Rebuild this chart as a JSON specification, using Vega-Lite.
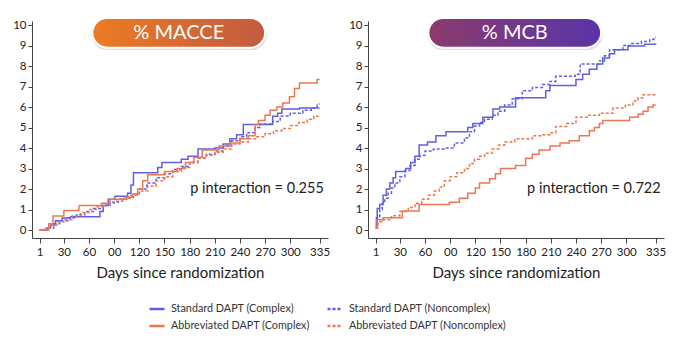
{
  "$schema": "https://vega.github.io/schema/vega-lite/v6.json",
  "background": "white",
  "padding": {"left": 12, "top": 16, "right": 5, "bottom": 5},
  "config": {
    "font": "Lato",
    "view": {"stroke": null},
    "axis": {"grid": false, "domainColor": "#444", "tickColor": "#444", "labelColor": "#222", "labelFontSize": 11.5, "titleColor": "#222", "titleFontWeight": "normal", "labelOverlap": false},
    "legend": {"orient": "none", "legendX": 116, "legendY": 279, "columns": 2, "title": null, "symbolType": "stroke", "symbolSize": 225, "symbolStrokeWidth": 2.5, "labelFontSize": 10.8, "labelColor": "#333", "labelLimit": 400, "columnPadding": 12, "rowPadding": 3, "labelOffset": 5}
  },
  "datasets": {
    "km": [
      {"panel":"MACCE","group":"Standard DAPT (Complex)","day":1,"pct":0},
      {"panel":"MACCE","group":"Standard DAPT (Complex)","day":10,"pct":0.1},
      {"panel":"MACCE","group":"Standard DAPT (Complex)","day":14,"pct":0.25},
      {"panel":"MACCE","group":"Standard DAPT (Complex)","day":20,"pct":0.45},
      {"panel":"MACCE","group":"Standard DAPT (Complex)","day":28,"pct":0.58},
      {"panel":"MACCE","group":"Standard DAPT (Complex)","day":38,"pct":0.65},
      {"panel":"MACCE","group":"Standard DAPT (Complex)","day":73,"pct":0.9},
      {"panel":"MACCE","group":"Standard DAPT (Complex)","day":77,"pct":1.2},
      {"panel":"MACCE","group":"Standard DAPT (Complex)","day":83,"pct":1.5},
      {"panel":"MACCE","group":"Standard DAPT (Complex)","day":91,"pct":1.65},
      {"panel":"MACCE","group":"Standard DAPT (Complex)","day":106,"pct":1.8},
      {"panel":"MACCE","group":"Standard DAPT (Complex)","day":110,"pct":2.2},
      {"panel":"MACCE","group":"Standard DAPT (Complex)","day":113,"pct":2.8},
      {"panel":"MACCE","group":"Standard DAPT (Complex)","day":142,"pct":3.05},
      {"panel":"MACCE","group":"Standard DAPT (Complex)","day":147,"pct":3.3},
      {"panel":"MACCE","group":"Standard DAPT (Complex)","day":170,"pct":3.45},
      {"panel":"MACCE","group":"Standard DAPT (Complex)","day":178,"pct":3.6},
      {"panel":"MACCE","group":"Standard DAPT (Complex)","day":190,"pct":3.95},
      {"panel":"MACCE","group":"Standard DAPT (Complex)","day":210,"pct":4.0},
      {"panel":"MACCE","group":"Standard DAPT (Complex)","day":220,"pct":4.2},
      {"panel":"MACCE","group":"Standard DAPT (Complex)","day":228,"pct":4.45},
      {"panel":"MACCE","group":"Standard DAPT (Complex)","day":236,"pct":4.65},
      {"panel":"MACCE","group":"Standard DAPT (Complex)","day":244,"pct":5.15},
      {"panel":"MACCE","group":"Standard DAPT (Complex)","day":279,"pct":5.55},
      {"panel":"MACCE","group":"Standard DAPT (Complex)","day":285,"pct":5.7},
      {"panel":"MACCE","group":"Standard DAPT (Complex)","day":290,"pct":5.9},
      {"panel":"MACCE","group":"Standard DAPT (Complex)","day":311,"pct":5.95},
      {"panel":"MACCE","group":"Standard DAPT (Complex)","day":335,"pct":5.95},

      {"panel":"MACCE","group":"Standard DAPT (Noncomplex)","day":1,"pct":0},
      {"panel":"MACCE","group":"Standard DAPT (Noncomplex)","day":12,"pct":0.1},
      {"panel":"MACCE","group":"Standard DAPT (Noncomplex)","day":18,"pct":0.3},
      {"panel":"MACCE","group":"Standard DAPT (Noncomplex)","day":25,"pct":0.45},
      {"panel":"MACCE","group":"Standard DAPT (Noncomplex)","day":35,"pct":0.6},
      {"panel":"MACCE","group":"Standard DAPT (Noncomplex)","day":45,"pct":0.75},
      {"panel":"MACCE","group":"Standard DAPT (Noncomplex)","day":55,"pct":0.9},
      {"panel":"MACCE","group":"Standard DAPT (Noncomplex)","day":65,"pct":1.05},
      {"panel":"MACCE","group":"Standard DAPT (Noncomplex)","day":75,"pct":1.2},
      {"panel":"MACCE","group":"Standard DAPT (Noncomplex)","day":85,"pct":1.35},
      {"panel":"MACCE","group":"Standard DAPT (Noncomplex)","day":95,"pct":1.5},
      {"panel":"MACCE","group":"Standard DAPT (Noncomplex)","day":105,"pct":1.6},
      {"panel":"MACCE","group":"Standard DAPT (Noncomplex)","day":113,"pct":1.75},
      {"panel":"MACCE","group":"Standard DAPT (Noncomplex)","day":120,"pct":2.0},
      {"panel":"MACCE","group":"Standard DAPT (Noncomplex)","day":129,"pct":2.3},
      {"panel":"MACCE","group":"Standard DAPT (Noncomplex)","day":140,"pct":2.55},
      {"panel":"MACCE","group":"Standard DAPT (Noncomplex)","day":150,"pct":2.75},
      {"panel":"MACCE","group":"Standard DAPT (Noncomplex)","day":160,"pct":2.95},
      {"panel":"MACCE","group":"Standard DAPT (Noncomplex)","day":170,"pct":3.1},
      {"panel":"MACCE","group":"Standard DAPT (Noncomplex)","day":180,"pct":3.3},
      {"panel":"MACCE","group":"Standard DAPT (Noncomplex)","day":190,"pct":3.5},
      {"panel":"MACCE","group":"Standard DAPT (Noncomplex)","day":200,"pct":3.7},
      {"panel":"MACCE","group":"Standard DAPT (Noncomplex)","day":210,"pct":3.85},
      {"panel":"MACCE","group":"Standard DAPT (Noncomplex)","day":220,"pct":4.1},
      {"panel":"MACCE","group":"Standard DAPT (Noncomplex)","day":230,"pct":4.35},
      {"panel":"MACCE","group":"Standard DAPT (Noncomplex)","day":240,"pct":4.55},
      {"panel":"MACCE","group":"Standard DAPT (Noncomplex)","day":248,"pct":4.75},
      {"panel":"MACCE","group":"Standard DAPT (Noncomplex)","day":258,"pct":5.0},
      {"panel":"MACCE","group":"Standard DAPT (Noncomplex)","day":264,"pct":5.17},
      {"panel":"MACCE","group":"Standard DAPT (Noncomplex)","day":279,"pct":5.3},
      {"panel":"MACCE","group":"Standard DAPT (Noncomplex)","day":288,"pct":5.56},
      {"panel":"MACCE","group":"Standard DAPT (Noncomplex)","day":300,"pct":5.7},
      {"panel":"MACCE","group":"Standard DAPT (Noncomplex)","day":315,"pct":5.85},
      {"panel":"MACCE","group":"Standard DAPT (Noncomplex)","day":325,"pct":5.95},
      {"panel":"MACCE","group":"Standard DAPT (Noncomplex)","day":332,"pct":6.15},
      {"panel":"MACCE","group":"Standard DAPT (Noncomplex)","day":335,"pct":6.15},

      {"panel":"MACCE","group":"Abbreviated DAPT (Complex)","day":1,"pct":0},
      {"panel":"MACCE","group":"Abbreviated DAPT (Complex)","day":12,"pct":0.3},
      {"panel":"MACCE","group":"Abbreviated DAPT (Complex)","day":17,"pct":0.68},
      {"panel":"MACCE","group":"Abbreviated DAPT (Complex)","day":30,"pct":0.95},
      {"panel":"MACCE","group":"Abbreviated DAPT (Complex)","day":48,"pct":1.2},
      {"panel":"MACCE","group":"Abbreviated DAPT (Complex)","day":75,"pct":1.3},
      {"panel":"MACCE","group":"Abbreviated DAPT (Complex)","day":85,"pct":1.5},
      {"panel":"MACCE","group":"Abbreviated DAPT (Complex)","day":105,"pct":1.6},
      {"panel":"MACCE","group":"Abbreviated DAPT (Complex)","day":112,"pct":1.75},
      {"panel":"MACCE","group":"Abbreviated DAPT (Complex)","day":118,"pct":2.0},
      {"panel":"MACCE","group":"Abbreviated DAPT (Complex)","day":124,"pct":2.4},
      {"panel":"MACCE","group":"Abbreviated DAPT (Complex)","day":130,"pct":2.7},
      {"panel":"MACCE","group":"Abbreviated DAPT (Complex)","day":150,"pct":2.85},
      {"panel":"MACCE","group":"Abbreviated DAPT (Complex)","day":165,"pct":3.0},
      {"panel":"MACCE","group":"Abbreviated DAPT (Complex)","day":175,"pct":3.3},
      {"panel":"MACCE","group":"Abbreviated DAPT (Complex)","day":185,"pct":3.55},
      {"panel":"MACCE","group":"Abbreviated DAPT (Complex)","day":195,"pct":3.9},
      {"panel":"MACCE","group":"Abbreviated DAPT (Complex)","day":215,"pct":4.1},
      {"panel":"MACCE","group":"Abbreviated DAPT (Complex)","day":228,"pct":4.25},
      {"panel":"MACCE","group":"Abbreviated DAPT (Complex)","day":240,"pct":4.45},
      {"panel":"MACCE","group":"Abbreviated DAPT (Complex)","day":250,"pct":4.6},
      {"panel":"MACCE","group":"Abbreviated DAPT (Complex)","day":258,"pct":5.15},
      {"panel":"MACCE","group":"Abbreviated DAPT (Complex)","day":262,"pct":5.35},
      {"panel":"MACCE","group":"Abbreviated DAPT (Complex)","day":270,"pct":5.6},
      {"panel":"MACCE","group":"Abbreviated DAPT (Complex)","day":276,"pct":5.85},
      {"panel":"MACCE","group":"Abbreviated DAPT (Complex)","day":284,"pct":6.0},
      {"panel":"MACCE","group":"Abbreviated DAPT (Complex)","day":291,"pct":6.2},
      {"panel":"MACCE","group":"Abbreviated DAPT (Complex)","day":299,"pct":6.5},
      {"panel":"MACCE","group":"Abbreviated DAPT (Complex)","day":305,"pct":6.9},
      {"panel":"MACCE","group":"Abbreviated DAPT (Complex)","day":311,"pct":7.17},
      {"panel":"MACCE","group":"Abbreviated DAPT (Complex)","day":332,"pct":7.35},
      {"panel":"MACCE","group":"Abbreviated DAPT (Complex)","day":335,"pct":7.35},

      {"panel":"MACCE","group":"Abbreviated DAPT (Noncomplex)","day":1,"pct":0},
      {"panel":"MACCE","group":"Abbreviated DAPT (Noncomplex)","day":8,"pct":0.1},
      {"panel":"MACCE","group":"Abbreviated DAPT (Noncomplex)","day":15,"pct":0.25},
      {"panel":"MACCE","group":"Abbreviated DAPT (Noncomplex)","day":22,"pct":0.4},
      {"panel":"MACCE","group":"Abbreviated DAPT (Noncomplex)","day":30,"pct":0.5},
      {"panel":"MACCE","group":"Abbreviated DAPT (Noncomplex)","day":40,"pct":0.7},
      {"panel":"MACCE","group":"Abbreviated DAPT (Noncomplex)","day":50,"pct":0.85},
      {"panel":"MACCE","group":"Abbreviated DAPT (Noncomplex)","day":60,"pct":1.0},
      {"panel":"MACCE","group":"Abbreviated DAPT (Noncomplex)","day":70,"pct":1.15},
      {"panel":"MACCE","group":"Abbreviated DAPT (Noncomplex)","day":80,"pct":1.3},
      {"panel":"MACCE","group":"Abbreviated DAPT (Noncomplex)","day":90,"pct":1.4},
      {"panel":"MACCE","group":"Abbreviated DAPT (Noncomplex)","day":100,"pct":1.55},
      {"panel":"MACCE","group":"Abbreviated DAPT (Noncomplex)","day":110,"pct":1.7},
      {"panel":"MACCE","group":"Abbreviated DAPT (Noncomplex)","day":120,"pct":1.9},
      {"panel":"MACCE","group":"Abbreviated DAPT (Noncomplex)","day":130,"pct":2.15},
      {"panel":"MACCE","group":"Abbreviated DAPT (Noncomplex)","day":140,"pct":2.4},
      {"panel":"MACCE","group":"Abbreviated DAPT (Noncomplex)","day":150,"pct":2.6},
      {"panel":"MACCE","group":"Abbreviated DAPT (Noncomplex)","day":160,"pct":2.85},
      {"panel":"MACCE","group":"Abbreviated DAPT (Noncomplex)","day":170,"pct":3.05},
      {"panel":"MACCE","group":"Abbreviated DAPT (Noncomplex)","day":180,"pct":3.3},
      {"panel":"MACCE","group":"Abbreviated DAPT (Noncomplex)","day":190,"pct":3.5},
      {"panel":"MACCE","group":"Abbreviated DAPT (Noncomplex)","day":200,"pct":3.65},
      {"panel":"MACCE","group":"Abbreviated DAPT (Noncomplex)","day":210,"pct":3.8},
      {"panel":"MACCE","group":"Abbreviated DAPT (Noncomplex)","day":220,"pct":3.95},
      {"panel":"MACCE","group":"Abbreviated DAPT (Noncomplex)","day":230,"pct":4.2},
      {"panel":"MACCE","group":"Abbreviated DAPT (Noncomplex)","day":240,"pct":4.3},
      {"panel":"MACCE","group":"Abbreviated DAPT (Noncomplex)","day":250,"pct":4.45},
      {"panel":"MACCE","group":"Abbreviated DAPT (Noncomplex)","day":260,"pct":4.55},
      {"panel":"MACCE","group":"Abbreviated DAPT (Noncomplex)","day":270,"pct":4.7},
      {"panel":"MACCE","group":"Abbreviated DAPT (Noncomplex)","day":280,"pct":4.85},
      {"panel":"MACCE","group":"Abbreviated DAPT (Noncomplex)","day":290,"pct":4.95},
      {"panel":"MACCE","group":"Abbreviated DAPT (Noncomplex)","day":300,"pct":5.1},
      {"panel":"MACCE","group":"Abbreviated DAPT (Noncomplex)","day":310,"pct":5.25},
      {"panel":"MACCE","group":"Abbreviated DAPT (Noncomplex)","day":320,"pct":5.4},
      {"panel":"MACCE","group":"Abbreviated DAPT (Noncomplex)","day":328,"pct":5.55},
      {"panel":"MACCE","group":"Abbreviated DAPT (Noncomplex)","day":335,"pct":5.6},

      {"panel":"MCB","group":"Standard DAPT (Complex)","day":1,"pct":0.2},
      {"panel":"MCB","group":"Standard DAPT (Complex)","day":2,"pct":0.6},
      {"panel":"MCB","group":"Standard DAPT (Complex)","day":3,"pct":1.05},
      {"panel":"MCB","group":"Standard DAPT (Complex)","day":6,"pct":1.25},
      {"panel":"MCB","group":"Standard DAPT (Complex)","day":10,"pct":1.7},
      {"panel":"MCB","group":"Standard DAPT (Complex)","day":14,"pct":2.0},
      {"panel":"MCB","group":"Standard DAPT (Complex)","day":18,"pct":2.3},
      {"panel":"MCB","group":"Standard DAPT (Complex)","day":22,"pct":2.55},
      {"panel":"MCB","group":"Standard DAPT (Complex)","day":25,"pct":2.85},
      {"panel":"MCB","group":"Standard DAPT (Complex)","day":37,"pct":3.0},
      {"panel":"MCB","group":"Standard DAPT (Complex)","day":43,"pct":3.3},
      {"panel":"MCB","group":"Standard DAPT (Complex)","day":48,"pct":3.6},
      {"panel":"MCB","group":"Standard DAPT (Complex)","day":53,"pct":4.15},
      {"panel":"MCB","group":"Standard DAPT (Complex)","day":63,"pct":4.3},
      {"panel":"MCB","group":"Standard DAPT (Complex)","day":73,"pct":4.6},
      {"panel":"MCB","group":"Standard DAPT (Complex)","day":85,"pct":4.8},
      {"panel":"MCB","group":"Standard DAPT (Complex)","day":111,"pct":5.0},
      {"panel":"MCB","group":"Standard DAPT (Complex)","day":117,"pct":5.2},
      {"panel":"MCB","group":"Standard DAPT (Complex)","day":129,"pct":5.5},
      {"panel":"MCB","group":"Standard DAPT (Complex)","day":141,"pct":5.9},
      {"panel":"MCB","group":"Standard DAPT (Complex)","day":149,"pct":6.0},
      {"panel":"MCB","group":"Standard DAPT (Complex)","day":168,"pct":6.45},
      {"panel":"MCB","group":"Standard DAPT (Complex)","day":204,"pct":6.8},
      {"panel":"MCB","group":"Standard DAPT (Complex)","day":209,"pct":7.05},
      {"panel":"MCB","group":"Standard DAPT (Complex)","day":240,"pct":7.35},
      {"panel":"MCB","group":"Standard DAPT (Complex)","day":248,"pct":7.6},
      {"panel":"MCB","group":"Standard DAPT (Complex)","day":256,"pct":7.85},
      {"panel":"MCB","group":"Standard DAPT (Complex)","day":265,"pct":8.1},
      {"panel":"MCB","group":"Standard DAPT (Complex)","day":272,"pct":8.4},
      {"panel":"MCB","group":"Standard DAPT (Complex)","day":280,"pct":8.6},
      {"panel":"MCB","group":"Standard DAPT (Complex)","day":286,"pct":8.8},
      {"panel":"MCB","group":"Standard DAPT (Complex)","day":302,"pct":8.98},
      {"panel":"MCB","group":"Standard DAPT (Complex)","day":322,"pct":9.07},
      {"panel":"MCB","group":"Standard DAPT (Complex)","day":335,"pct":9.1},

      {"panel":"MCB","group":"Standard DAPT (Noncomplex)","day":1,"pct":0.1},
      {"panel":"MCB","group":"Standard DAPT (Noncomplex)","day":3,"pct":0.6},
      {"panel":"MCB","group":"Standard DAPT (Noncomplex)","day":6,"pct":1.0},
      {"panel":"MCB","group":"Standard DAPT (Noncomplex)","day":9,"pct":1.3},
      {"panel":"MCB","group":"Standard DAPT (Noncomplex)","day":12,"pct":1.55},
      {"panel":"MCB","group":"Standard DAPT (Noncomplex)","day":16,"pct":1.8},
      {"panel":"MCB","group":"Standard DAPT (Noncomplex)","day":20,"pct":2.05},
      {"panel":"MCB","group":"Standard DAPT (Noncomplex)","day":24,"pct":2.3},
      {"panel":"MCB","group":"Standard DAPT (Noncomplex)","day":30,"pct":2.6},
      {"panel":"MCB","group":"Standard DAPT (Noncomplex)","day":36,"pct":2.9},
      {"panel":"MCB","group":"Standard DAPT (Noncomplex)","day":42,"pct":3.15},
      {"panel":"MCB","group":"Standard DAPT (Noncomplex)","day":48,"pct":3.45},
      {"panel":"MCB","group":"Standard DAPT (Noncomplex)","day":54,"pct":3.65},
      {"panel":"MCB","group":"Standard DAPT (Noncomplex)","day":60,"pct":3.85},
      {"panel":"MCB","group":"Standard DAPT (Noncomplex)","day":70,"pct":3.95},
      {"panel":"MCB","group":"Standard DAPT (Noncomplex)","day":83,"pct":4.0},
      {"panel":"MCB","group":"Standard DAPT (Noncomplex)","day":95,"pct":4.25},
      {"panel":"MCB","group":"Standard DAPT (Noncomplex)","day":107,"pct":4.5},
      {"panel":"MCB","group":"Standard DAPT (Noncomplex)","day":113,"pct":4.8},
      {"panel":"MCB","group":"Standard DAPT (Noncomplex)","day":119,"pct":5.07},
      {"panel":"MCB","group":"Standard DAPT (Noncomplex)","day":125,"pct":5.25},
      {"panel":"MCB","group":"Standard DAPT (Noncomplex)","day":131,"pct":5.4},
      {"panel":"MCB","group":"Standard DAPT (Noncomplex)","day":140,"pct":5.6},
      {"panel":"MCB","group":"Standard DAPT (Noncomplex)","day":147,"pct":5.8},
      {"panel":"MCB","group":"Standard DAPT (Noncomplex)","day":155,"pct":6.1},
      {"panel":"MCB","group":"Standard DAPT (Noncomplex)","day":164,"pct":6.4},
      {"panel":"MCB","group":"Standard DAPT (Noncomplex)","day":176,"pct":6.8},
      {"panel":"MCB","group":"Standard DAPT (Noncomplex)","day":188,"pct":6.95},
      {"panel":"MCB","group":"Standard DAPT (Noncomplex)","day":200,"pct":7.1},
      {"panel":"MCB","group":"Standard DAPT (Noncomplex)","day":209,"pct":7.25},
      {"panel":"MCB","group":"Standard DAPT (Noncomplex)","day":216,"pct":7.5},
      {"panel":"MCB","group":"Standard DAPT (Noncomplex)","day":239,"pct":7.6},
      {"panel":"MCB","group":"Standard DAPT (Noncomplex)","day":245,"pct":8.1},
      {"panel":"MCB","group":"Standard DAPT (Noncomplex)","day":268,"pct":8.25},
      {"panel":"MCB","group":"Standard DAPT (Noncomplex)","day":274,"pct":8.5},
      {"panel":"MCB","group":"Standard DAPT (Noncomplex)","day":280,"pct":8.8},
      {"panel":"MCB","group":"Standard DAPT (Noncomplex)","day":296,"pct":9.0},
      {"panel":"MCB","group":"Standard DAPT (Noncomplex)","day":305,"pct":9.1},
      {"panel":"MCB","group":"Standard DAPT (Noncomplex)","day":318,"pct":9.2},
      {"panel":"MCB","group":"Standard DAPT (Noncomplex)","day":328,"pct":9.3},
      {"panel":"MCB","group":"Standard DAPT (Noncomplex)","day":333,"pct":9.4},
      {"panel":"MCB","group":"Standard DAPT (Noncomplex)","day":335,"pct":9.4},

      {"panel":"MCB","group":"Abbreviated DAPT (Complex)","day":1,"pct":0.15},
      {"panel":"MCB","group":"Abbreviated DAPT (Complex)","day":3,"pct":0.5},
      {"panel":"MCB","group":"Abbreviated DAPT (Complex)","day":10,"pct":0.6},
      {"panel":"MCB","group":"Abbreviated DAPT (Complex)","day":33,"pct":0.93},
      {"panel":"MCB","group":"Abbreviated DAPT (Complex)","day":53,"pct":1.25},
      {"panel":"MCB","group":"Abbreviated DAPT (Complex)","day":89,"pct":1.35},
      {"panel":"MCB","group":"Abbreviated DAPT (Complex)","day":101,"pct":1.55},
      {"panel":"MCB","group":"Abbreviated DAPT (Complex)","day":111,"pct":1.8},
      {"panel":"MCB","group":"Abbreviated DAPT (Complex)","day":120,"pct":2.05},
      {"panel":"MCB","group":"Abbreviated DAPT (Complex)","day":125,"pct":2.3},
      {"panel":"MCB","group":"Abbreviated DAPT (Complex)","day":137,"pct":2.5},
      {"panel":"MCB","group":"Abbreviated DAPT (Complex)","day":144,"pct":2.75},
      {"panel":"MCB","group":"Abbreviated DAPT (Complex)","day":150,"pct":3.0},
      {"panel":"MCB","group":"Abbreviated DAPT (Complex)","day":168,"pct":3.15},
      {"panel":"MCB","group":"Abbreviated DAPT (Complex)","day":180,"pct":3.5},
      {"panel":"MCB","group":"Abbreviated DAPT (Complex)","day":188,"pct":3.7},
      {"panel":"MCB","group":"Abbreviated DAPT (Complex)","day":196,"pct":3.9},
      {"panel":"MCB","group":"Abbreviated DAPT (Complex)","day":209,"pct":4.1},
      {"panel":"MCB","group":"Abbreviated DAPT (Complex)","day":221,"pct":4.25},
      {"panel":"MCB","group":"Abbreviated DAPT (Complex)","day":232,"pct":4.35},
      {"panel":"MCB","group":"Abbreviated DAPT (Complex)","day":244,"pct":4.6},
      {"panel":"MCB","group":"Abbreviated DAPT (Complex)","day":256,"pct":4.85},
      {"panel":"MCB","group":"Abbreviated DAPT (Complex)","day":262,"pct":5.0},
      {"panel":"MCB","group":"Abbreviated DAPT (Complex)","day":268,"pct":5.2},
      {"panel":"MCB","group":"Abbreviated DAPT (Complex)","day":272,"pct":5.35},
      {"panel":"MCB","group":"Abbreviated DAPT (Complex)","day":304,"pct":5.5},
      {"panel":"MCB","group":"Abbreviated DAPT (Complex)","day":314,"pct":5.65},
      {"panel":"MCB","group":"Abbreviated DAPT (Complex)","day":320,"pct":5.8},
      {"panel":"MCB","group":"Abbreviated DAPT (Complex)","day":326,"pct":6.0},
      {"panel":"MCB","group":"Abbreviated DAPT (Complex)","day":332,"pct":6.1},
      {"panel":"MCB","group":"Abbreviated DAPT (Complex)","day":335,"pct":6.1},

      {"panel":"MCB","group":"Abbreviated DAPT (Noncomplex)","day":1,"pct":0.1},
      {"panel":"MCB","group":"Abbreviated DAPT (Noncomplex)","day":4,"pct":0.4},
      {"panel":"MCB","group":"Abbreviated DAPT (Noncomplex)","day":10,"pct":0.5},
      {"panel":"MCB","group":"Abbreviated DAPT (Noncomplex)","day":20,"pct":0.7},
      {"panel":"MCB","group":"Abbreviated DAPT (Noncomplex)","day":30,"pct":0.9},
      {"panel":"MCB","group":"Abbreviated DAPT (Noncomplex)","day":40,"pct":1.1},
      {"panel":"MCB","group":"Abbreviated DAPT (Noncomplex)","day":48,"pct":1.3},
      {"panel":"MCB","group":"Abbreviated DAPT (Noncomplex)","day":56,"pct":1.5},
      {"panel":"MCB","group":"Abbreviated DAPT (Noncomplex)","day":64,"pct":1.7},
      {"panel":"MCB","group":"Abbreviated DAPT (Noncomplex)","day":71,"pct":1.9},
      {"panel":"MCB","group":"Abbreviated DAPT (Noncomplex)","day":77,"pct":2.1},
      {"panel":"MCB","group":"Abbreviated DAPT (Noncomplex)","day":83,"pct":2.4},
      {"panel":"MCB","group":"Abbreviated DAPT (Noncomplex)","day":90,"pct":2.6},
      {"panel":"MCB","group":"Abbreviated DAPT (Noncomplex)","day":98,"pct":2.8},
      {"panel":"MCB","group":"Abbreviated DAPT (Noncomplex)","day":107,"pct":3.0},
      {"panel":"MCB","group":"Abbreviated DAPT (Noncomplex)","day":113,"pct":3.25},
      {"panel":"MCB","group":"Abbreviated DAPT (Noncomplex)","day":119,"pct":3.45},
      {"panel":"MCB","group":"Abbreviated DAPT (Noncomplex)","day":125,"pct":3.6},
      {"panel":"MCB","group":"Abbreviated DAPT (Noncomplex)","day":131,"pct":3.75},
      {"panel":"MCB","group":"Abbreviated DAPT (Noncomplex)","day":140,"pct":3.95},
      {"panel":"MCB","group":"Abbreviated DAPT (Noncomplex)","day":148,"pct":4.15},
      {"panel":"MCB","group":"Abbreviated DAPT (Noncomplex)","day":155,"pct":4.3},
      {"panel":"MCB","group":"Abbreviated DAPT (Noncomplex)","day":167,"pct":4.45},
      {"panel":"MCB","group":"Abbreviated DAPT (Noncomplex)","day":188,"pct":4.6},
      {"panel":"MCB","group":"Abbreviated DAPT (Noncomplex)","day":200,"pct":4.65},
      {"panel":"MCB","group":"Abbreviated DAPT (Noncomplex)","day":209,"pct":4.75},
      {"panel":"MCB","group":"Abbreviated DAPT (Noncomplex)","day":216,"pct":5.05},
      {"panel":"MCB","group":"Abbreviated DAPT (Noncomplex)","day":229,"pct":5.2},
      {"panel":"MCB","group":"Abbreviated DAPT (Noncomplex)","day":240,"pct":5.5},
      {"panel":"MCB","group":"Abbreviated DAPT (Noncomplex)","day":255,"pct":5.6},
      {"panel":"MCB","group":"Abbreviated DAPT (Noncomplex)","day":268,"pct":5.7},
      {"panel":"MCB","group":"Abbreviated DAPT (Noncomplex)","day":284,"pct":5.95},
      {"panel":"MCB","group":"Abbreviated DAPT (Noncomplex)","day":299,"pct":6.1},
      {"panel":"MCB","group":"Abbreviated DAPT (Noncomplex)","day":308,"pct":6.3},
      {"panel":"MCB","group":"Abbreviated DAPT (Noncomplex)","day":314,"pct":6.45},
      {"panel":"MCB","group":"Abbreviated DAPT (Noncomplex)","day":320,"pct":6.6},
      {"panel":"MCB","group":"Abbreviated DAPT (Noncomplex)","day":335,"pct":6.65}
    ],
    "panels": [
      {"panel": "MACCE", "title": "% MACCE", "ptext": "p interaction = 0.255"},
      {"panel": "MCB", "title": "% MCB", "ptext": "p interaction = 0.722"}
    ]
  },
  "spacing": 18,
  "resolve": {"scale": {"color": "shared", "strokeDash": "shared"}},
  "hconcat": [
    {
      "width": 296,
      "height": 217,
      "layer": [
        {
          "data": {"name": "km"},
          "transform": [{"filter": "datum.panel == 'MACCE'"}],
          "mark": {"type": "line", "interpolate": "step-after", "strokeWidth": 1.5},
          "encoding": {
            "x": {"field": "day", "type": "quantitative", "scale": {"domain": [-8, 345], "nice": false, "zero": false},
              "axis": {"values": [1,30,60,90,120,150,180,210,240,270,300,335], "tickCount": 30, "format": "d", "labelExpr": "datum.value == 90 ? '00' : datum.label", "labelOverlap": false, "title": "Days since randomization", "titleFontSize": 15, "titlePadding": 8, "tickSize": 5, "labelPadding": 3, "labelFlush": false}},
            "y": {"field": "pct", "type": "quantitative", "scale": {"domain": [-0.39, 10.2], "nice": false, "zero": false},
              "axis": {"values": [0,1,2,3,4,5,6,7,8,9,10], "tickCount": 30, "format": "d", "labelOverlap": false, "title": null, "tickSize": 4, "labelPadding": 2}},
            "color": {"field": "group", "type": "nominal",
              "scale": {"domain": ["Standard DAPT (Complex)", "Abbreviated DAPT (Complex)", "Standard DAPT (Noncomplex)", "Abbreviated DAPT (Noncomplex)"], "range": ["#5f5fe3", "#ec7750", "#5f5fe3", "#ec7750"]}},
            "strokeDash": {"field": "group", "type": "nominal",
              "scale": {"domain": ["Standard DAPT (Complex)", "Abbreviated DAPT (Complex)", "Standard DAPT (Noncomplex)", "Abbreviated DAPT (Noncomplex)"], "range": [[1,0],[1,0],[3,2],[3,2]]}}
          }
        },
        {
          "data": {"name": "panels"},
          "transform": [{"filter": "datum.panel == 'MACCE'"}],
          "mark": {"type": "rect", "cornerRadius": 16, "fill": "#c9c9c9", "opacity": 0.6},
          "encoding": {"x": {"datum": 63}, "x2": {"datum": 272}, "y": {"datum": 8.78}, "y2": {"datum": 10.28}}
        },
        {
          "data": {"name": "panels"},
          "transform": [{"filter": "datum.panel == 'MACCE'"}],
          "mark": {"type": "rect", "cornerRadius": 15, "stroke": "white", "strokeWidth": 2,
            "fill": {"gradient": "linear", "x1": 0, "y1": 0, "x2": 1, "y2": 0, "stops": [{"offset": 0, "color": "#ec7b22"}, {"offset": 1, "color": "#c35b40"}]}},
          "encoding": {"x": {"datum": 64}, "x2": {"datum": 270}, "y": {"datum": 8.9}, "y2": {"datum": 10.35}}
        },
        {
          "data": {"name": "panels"},
          "transform": [{"filter": "datum.panel == 'MACCE'"}],
          "mark": {"type": "text", "color": "white", "fontSize": 20, "baseline": "middle", "align": "center"},
          "encoding": {"x": {"datum": 167}, "y": {"datum": 9.6}, "text": {"field": "title"}}
        },
        {
          "data": {"name": "panels"},
          "transform": [{"filter": "datum.panel == 'MACCE'"}],
          "mark": {"type": "text", "color": "#222", "fontSize": 14.5, "baseline": "middle", "align": "right"},
          "encoding": {"x": {"datum": 340}, "y": {"datum": 2.0}, "text": {"field": "ptext"}}
        }
      ]
    },
    {
      "width": 296,
      "height": 217,
      "layer": [
        {
          "data": {"name": "km"},
          "transform": [{"filter": "datum.panel == 'MCB'"}],
          "mark": {"type": "line", "interpolate": "step-after", "strokeWidth": 1.5},
          "encoding": {
            "x": {"field": "day", "type": "quantitative", "scale": {"domain": [-8, 345], "nice": false, "zero": false},
              "axis": {"values": [1,30,60,90,120,150,180,210,240,270,300,335], "tickCount": 30, "format": "d", "labelExpr": "datum.value == 90 ? '00' : datum.label", "labelOverlap": false, "title": "Days since randomization", "titleFontSize": 15, "titlePadding": 8, "tickSize": 5, "labelPadding": 3, "labelFlush": false}},
            "y": {"field": "pct", "type": "quantitative", "scale": {"domain": [-0.39, 10.2], "nice": false, "zero": false},
              "axis": {"values": [0,1,2,3,4,5,6,7,8,9,10], "tickCount": 30, "format": "d", "labelOverlap": false, "title": null, "tickSize": 4, "labelPadding": 2}},
            "color": {"field": "group", "type": "nominal"},
            "strokeDash": {"field": "group", "type": "nominal"}
          }
        },
        {
          "data": {"name": "panels"},
          "transform": [{"filter": "datum.panel == 'MCB'"}],
          "mark": {"type": "rect", "cornerRadius": 16, "fill": "#c9c9c9", "opacity": 0.6},
          "encoding": {"x": {"datum": 63}, "x2": {"datum": 272}, "y": {"datum": 8.78}, "y2": {"datum": 10.28}}
        },
        {
          "data": {"name": "panels"},
          "transform": [{"filter": "datum.panel == 'MCB'"}],
          "mark": {"type": "rect", "cornerRadius": 15, "stroke": "white", "strokeWidth": 2,
            "fill": {"gradient": "linear", "x1": 0, "y1": 0, "x2": 1, "y2": 0, "stops": [{"offset": 0, "color": "#8c3a6c"}, {"offset": 1, "color": "#5a35a8"}]}},
          "encoding": {"x": {"datum": 64}, "x2": {"datum": 270}, "y": {"datum": 8.9}, "y2": {"datum": 10.35}}
        },
        {
          "data": {"name": "panels"},
          "transform": [{"filter": "datum.panel == 'MCB'"}],
          "mark": {"type": "text", "color": "white", "fontSize": 20, "baseline": "middle", "align": "center"},
          "encoding": {"x": {"datum": 167}, "y": {"datum": 9.6}, "text": {"field": "title"}}
        },
        {
          "data": {"name": "panels"},
          "transform": [{"filter": "datum.panel == 'MCB'"}],
          "mark": {"type": "text", "color": "#222", "fontSize": 14.5, "baseline": "middle", "align": "right"},
          "encoding": {"x": {"datum": 341}, "y": {"datum": 2.0}, "text": {"field": "ptext"}}
        }
      ]
    }
  ]
}
